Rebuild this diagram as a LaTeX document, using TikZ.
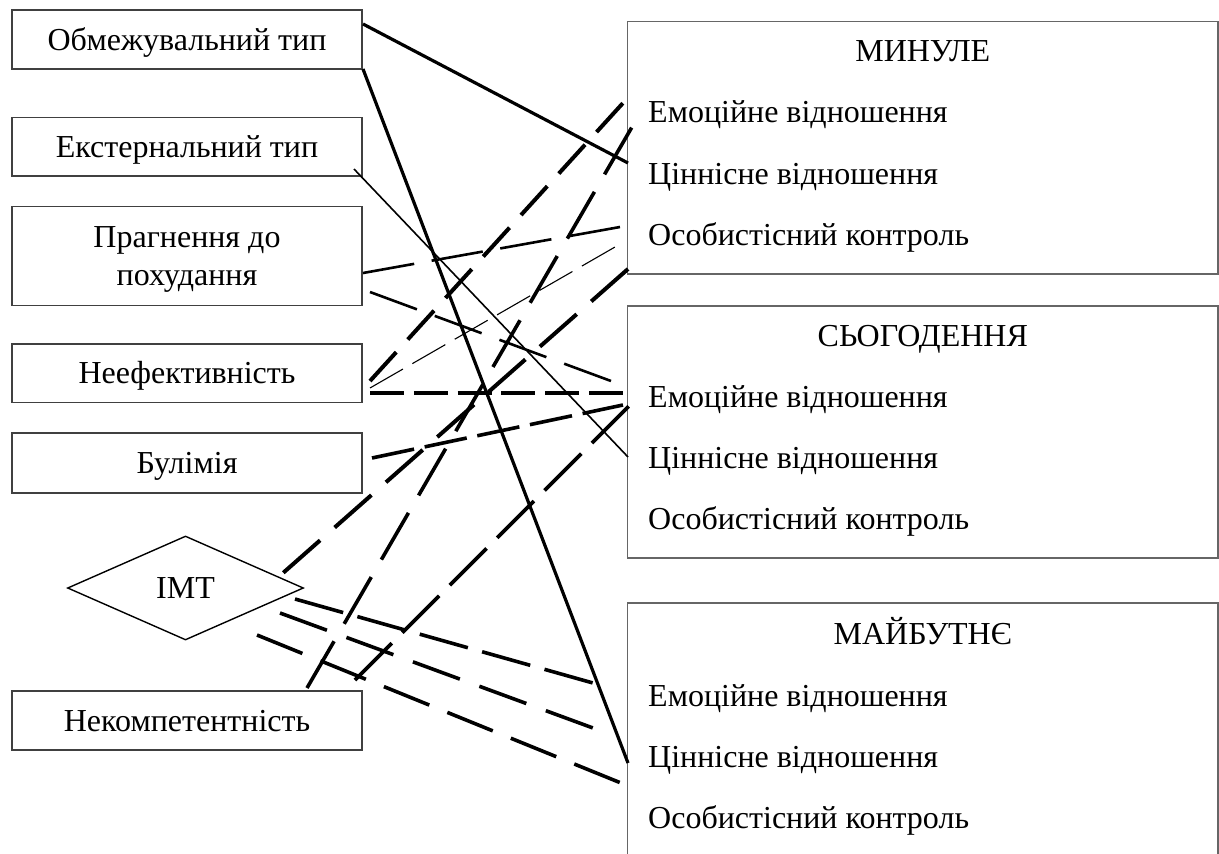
\documentclass[tikz,border=0pt]{standalone}
\usepackage{fontspec}
\setmainfont{Liberation Serif}
\usetikzlibrary{shapes.geometric}
\newcommand\mysz{\fontsize{32pt}{38pt}\selectfont}
\begin{document}
\begin{tikzpicture}[x=1pt,y=-1pt,
  lbox/.style={draw=black!75, line width=1.2pt, minimum width=350pt, inner sep=0pt, font=\mysz, text height=21pt, text depth=0pt},
  rbox/.style={draw=black!60, line width=1.3pt, minimum width=590.4pt, inner sep=0pt},
  item/.style={anchor=base west, inner sep=0pt, font=\mysz},
  head/.style={anchor=base, inner sep=0pt, font=\mysz},
  solidthick/.style={line width=3.2pt},
  solidthin/.style={line width=1.6pt},
  dthick/.style={line width=3.6pt},
  dmed/.style={line width=2.6pt},
  dthin/.style={line width=1.1pt}]
\useasboundingbox (0,0) rectangle (1219,854);
\clip (0,0) rectangle (1219,854);

% left boxes
\node[lbox, minimum height=59pt] (lb1) at (187,39.5) {Обмежувальний тип};
\node[lbox, minimum height=58.7pt] (lb2) at (187,146.7) {Екстернальний тип};
\node[lbox, minimum height=98.7pt] (lb3) at (187,256) {};
\node[item, anchor=base] (lb3a) at (187,247) {Прагнення до};
\node[item, anchor=base] (lb3b) at (187,285.5) {похудання};
\node[lbox, minimum height=58.7pt] (lb4) at (187,373.3) {Неефективність};
\node[lbox, minimum height=60pt] (lb5) at (187,463) {Булімія};
\node[draw=black, line width=1.4pt, shape=diamond, minimum width=236pt, minimum height=104pt, inner sep=0pt, font=\mysz, text height=21pt, text depth=0pt] (imt) at (185.5,588) {ІМТ};
\node[lbox, minimum height=59pt] (lb6) at (187,720.5) {Некомпетентність};

% right boxes
\node[rbox, minimum height=252.2pt] (rb1) at (922.8,147.9) {};
\node[rbox, minimum height=252pt] (rb2) at (922.8,432) {};
\node[rbox, minimum height=300pt] (rb3) at (922.8,753) {};

\node[head] (h1) at (922.8,61) {МИНУЛЕ};
\node[item] (p1e) at (648,122.5) {Емоційне відношення};
\node[item] (p1c) at (648,184) {Ціннісне відношення};
\node[item] (p1o) at (648,245) {Особистісний контроль};
\node[head] (h2) at (922.8,346) {СЬОГОДЕННЯ};
\node[item] (p2e) at (648,407.5) {Емоційне відношення};
\node[item] (p2c) at (648,468.5) {Ціннісне відношення};
\node[item] (p2o) at (648,529) {Особистісний контроль};
\node[head] (h3) at (922.8,644) {МАЙБУТНЄ};
\node[item] (p3e) at (648,706) {Емоційне відношення};
\node[item] (p3c) at (648,767) {Ціннісне відношення};
\node[item] (p3o) at (648,828) {Особистісний контроль};

% connector ends
\coordinate (A0) at (363,24);  \coordinate (A1) at (628,163);
\coordinate (B0) at (363,69);  \coordinate (B1) at (628,763);
\coordinate (C0) at (354,169); \coordinate (C1) at (628,457);
\coordinate (D0) at (363,273); \coordinate (D1) at (620,227);
\coordinate (E0) at (370,292); \coordinate (E1) at (611,381);
\coordinate (F0) at (370,393); \coordinate (F1) at (623,393);
\coordinate (G0) at (370,381); \coordinate (G1) at (623,103);
\coordinate (H0) at (370,388); \coordinate (H1) at (615,247);
\coordinate (I0) at (372,458); \coordinate (I1) at (623,405);
\coordinate (J0) at (283,573); \coordinate (J1) at (628,269);
\coordinate (K0) at (307,688); \coordinate (K1) at (632,127);
\coordinate (L0) at (355,680); \coordinate (L1) at (629,406);
\coordinate (M0) at (295,599); \coordinate (M1) at (593,683);
\coordinate (N0) at (280,613); \coordinate (N1) at (593,728);
\coordinate (O0) at (257,635); \coordinate (O1) at (621,783);

% connectors
\draw[solidthick] (A0) -- (A1);
\draw[solidthick] (B0) -- (B1);
\draw[solidthin] (C0) -- (C1);
\draw[dmed, dash pattern=on 52pt off 17.7pt] (D0) -- (D1);
\draw[dmed, dash pattern=on 50pt off 19pt] (E0) -- (E1);
\draw[dthick, line width=3.4pt, dash pattern=on 34pt off 9.8pt] (F0) -- (F1);
\draw[dthick, line width=4pt, dash pattern=on 39pt off 17.1pt] (G0) -- (G1);
\draw[dthin, dash pattern=on 38pt off 10.9pt] (H0) -- (H1);
\draw[dthick, dash pattern=on 43pt off 10.8pt] (I0) -- (I1);
\draw[dthick, line width=4pt, dash pattern=on 49pt off 19.4pt] (J1) -- (J0);
\draw[dthick, dash pattern=on 54pt off 20.2pt] (K0) -- (K1);
\draw[dthick, dash pattern=on 52pt off 15pt] (L0) -- (L1);
\draw[dthick, dash pattern=on 50pt off 14.8pt] (M0) -- (M1);
\draw[dthick, dash pattern=on 50pt off 20.8pt] (N0) -- (N1);
\draw[dthick, dash pattern=on 49pt off 19.5pt] (O0) -- (O1);
\end{tikzpicture}
\end{document}
